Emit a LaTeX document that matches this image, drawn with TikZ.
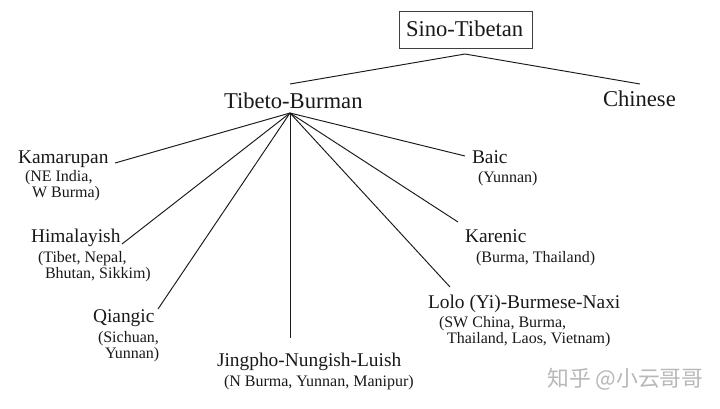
\documentclass[tikz,border=0pt]{standalone}
\usepackage{fontspec}
\setmainfont{Liberation Serif}
\newfontfamily\cjkwm{Noto Sans CJK SC}
\tikzset{
  lang/.style={inner sep=0pt,outer sep=0pt,anchor=base west,font=\fontsize{19.4}{24}\selectfont,text=black!90},
  head/.style={lang,font=\fontsize{22.6}{24}\selectfont},
  minor/.style={inner sep=0pt,outer sep=0pt,anchor=base west,align=left,font=\fontsize{16}{16}\selectfont,text=black!90},
  link/.style={line width=0.95pt,black!90}
}
\begin{document}
\begin{tikzpicture}[x=1pt,y=-1pt]
\useasboundingbox (0,0) rectangle (720,408);
\fill[white] (0,0) rectangle (720,408);
% headings
\node[head] (sino) at (406,36) {Sino-Tibetan};
\draw[line width=0.9pt,black!75] (399,11) rectangle (532,48);
\node[head] (tb) at (224,108) {Tibeto-Burman};
\node[head] (chinese) at (603,106) {Chinese};
% languages
\node[lang] (kamarupan) at (18,163) {Kamarupan};
\node[minor] (kamarupansub) at (25,197) {(NE India,\\\hspace*{7pt}W Burma)};
\node[lang] (himalayish) at (31,242) {Himalayish};
\node[minor] (himalayishsub) at (38,278) {(Tibet, Nepal,\\\hspace*{7pt}Bhutan, Sikkim)};
\node[lang] (qiangic) at (93,322) {Qiangic};
\node[minor] (qiangicsub) at (98,358) {(Sichuan,\\\hspace*{7pt}Yunnan)};
\node[lang] (jingpho) at (217,366) {Jingpho-Nungish-Luish};
\node[minor] (jingphosub) at (224,386) {(N Burma, Yunnan, Manipur)};
\node[lang] (baic) at (472,163) {Baic};
\node[minor] (baicsub) at (478,182) {(Yunnan)};
\node[lang] (karenic) at (465,242) {Karenic};
\node[minor] (karenicsub) at (476,262) {(Burma, Thailand)};
\node[lang] (lolo) at (428,308) {Lolo (Yi)-Burmese-Naxi};
\node[minor] (lolosub) at (439,343) {(SW China, Burma,\\\hspace*{8pt}Thailand, Laos, Vietnam)};
\node[inner sep=0pt,anchor=base west,font=\cjkwm\fontsize{21.8}{24}\selectfont,text=black!28] (wm) at (547,386) {知乎 @小云哥哥};
% connector ends
\coordinate (apex) at (465,54);
\coordinate (tbtop) at (290,84);
\coordinate (chtop) at (640,84);
\coordinate (hub) at (290,113);
\coordinate (kamend) at (115,163);
\coordinate (himend) at (122,244);
\coordinate (qiaend) at (158,309);
\coordinate (jinend) at (290,338);
\coordinate (loloend) at (450,287);
\coordinate (karend) at (458,222);
\coordinate (baiend) at (465,156);
\draw[link] (tbtop) -- (apex) -- (chtop);
\foreach \e in {kamend,himend,qiaend,jinend,loloend,karend,baiend}
  \draw[link] (hub) -- (\e);
\end{tikzpicture}
\end{document}
